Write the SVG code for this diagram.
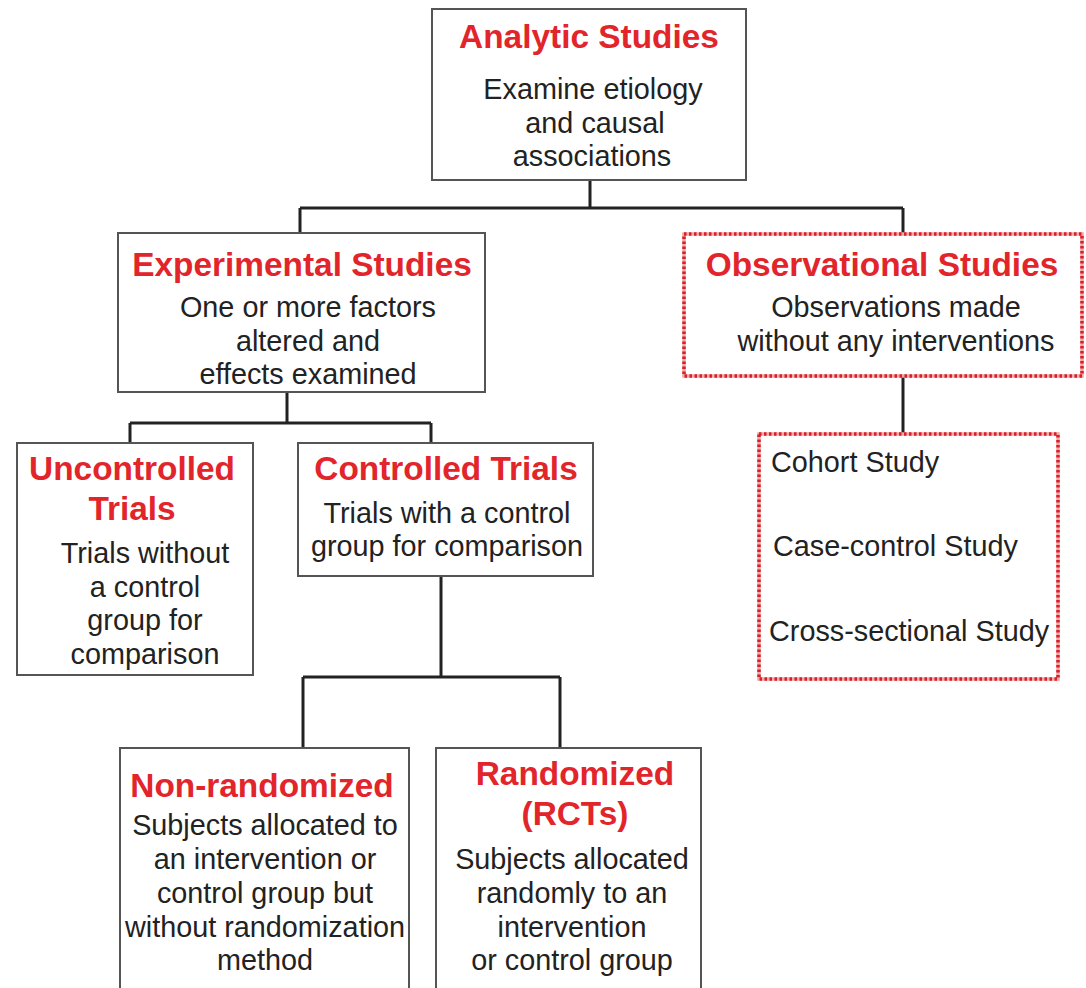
<svg xmlns="http://www.w3.org/2000/svg" width="1086" height="988" viewBox="0 0 1086 988">
<style>
.box{fill:#fff;stroke:#555;stroke-width:2}
.dotbg{fill:#fff;stroke:#f3a6a6;stroke-width:3.5}
.dot{fill:none;stroke:#d8202a;stroke-width:3.5;stroke-dasharray:2.5 2.5}
.t{font-family:"Liberation Sans",Arial,sans-serif;font-weight:bold;font-size:33.4px;fill:#e2252b;text-anchor:middle}
.b{font-family:"Liberation Sans",Arial,sans-serif;font-size:28.8px;fill:#222;text-anchor:middle}
.l{text-anchor:start}
.c{fill:none;stroke:#222;stroke-width:3}
</style>
<rect width="1086" height="988" fill="#fff"/>
<g id="connectors">
<path class="c" d="M590 180V208M300 208H903M300 208V233M903 208V234"/>
<path class="c" d="M287 392V423M130 423H431M130 423V443M431 423V443"/>
<path class="c" d="M903 376V434"/>
<path class="c" d="M441 576V677M303 677H560M303 677V748M560 677V748"/>
</g>
<g id="analytic">
<rect class="box" x="432" y="9" width="314" height="171"/>
<text class="t" x="589" y="48">Analytic Studies</text>
<text class="b" x="593" y="99">Examine etiology</text>
<text class="b" x="595" y="133">and causal</text>
<text class="b" x="592" y="166">associations</text>
</g>
<g id="experimental">
<rect class="box" x="118" y="233" width="367" height="159"/>
<text class="t" x="302" y="276">Experimental Studies</text>
<text class="b" x="308" y="317">One or more factors</text>
<text class="b" x="308" y="351">altered and</text>
<text class="b" x="308" y="384">effects examined</text>
</g>
<g id="observational">
<rect class="dotbg" x="684" y="234" width="398" height="142"/>
<rect class="dot" x="684" y="234" width="398" height="142"/>
<text class="t" x="882" y="276">Observational Studies</text>
<text class="b" x="896" y="317">Observations made</text>
<text class="b" x="896" y="351">without any interventions</text>
</g>
<g id="observational-types">
<rect class="dotbg" x="759" y="434" width="299" height="245"/>
<rect class="dot" x="759" y="434" width="299" height="245"/>
<text class="b l" x="771" y="472">Cohort Study</text>
<text class="b l" x="773" y="556">Case-control Study</text>
<text class="b l" x="769" y="641">Cross-sectional Study</text>
</g>
<g id="uncontrolled">
<rect class="box" x="17" y="443" width="236" height="232"/>
<text class="t" x="132" y="480">Uncontrolled</text>
<text class="t" x="132" y="520">Trials</text>
<text class="b" x="145" y="563">Trials without</text>
<text class="b" x="145" y="597">a control</text>
<text class="b" x="145" y="630">group for</text>
<text class="b" x="145" y="664">comparison</text>
</g>
<g id="controlled">
<rect class="box" x="298" y="443" width="295" height="133"/>
<text class="t" x="446" y="480">Controlled Trials</text>
<text class="b" x="447" y="523">Trials with a control</text>
<text class="b" x="447" y="556">group for comparison</text>
</g>
<g id="nonrandomized">
<rect class="box" x="120" y="748" width="289" height="260"/>
<text class="t" x="262" y="797">Non-randomized</text>
<text class="b" x="265" y="835">Subjects allocated to</text>
<text class="b" x="265" y="869">an intervention or</text>
<text class="b" x="265" y="903">control group but</text>
<text class="b" x="265" y="937">without randomization</text>
<text class="b" x="265" y="970">method</text>
</g>
<g id="randomized">
<rect class="box" x="436" y="748" width="265" height="260"/>
<text class="t" x="575" y="785">Randomized</text>
<text class="t" x="575" y="825">(RCTs)</text>
<text class="b" x="572" y="869">Subjects allocated</text>
<text class="b" x="572" y="903">randomly to an</text>
<text class="b" x="572" y="937">intervention</text>
<text class="b" x="572" y="970">or control group</text>
</g>
</svg>
